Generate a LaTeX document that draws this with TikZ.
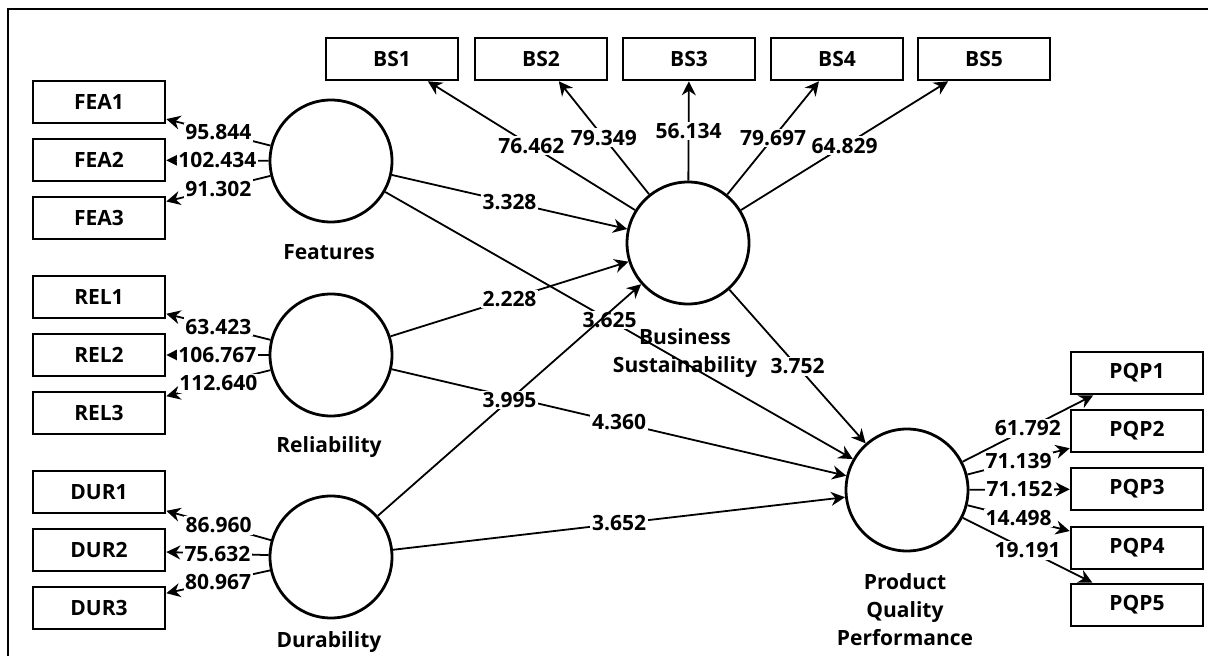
\documentclass[tikz,border=0pt]{standalone}
\usepackage{fontspec}
\setmainfont{Open Sans}
\usetikzlibrary{arrows.meta}
\newcommand\pfont{\fontsize{10.5}{14}\selectfont\bfseries}

\begin{document}
\begin{tikzpicture}[x=0.5pt,y=-0.5pt,
	ind/.style={draw,line width=1.3pt,minimum width=66pt,minimum height=21pt,inner sep=0pt,font=\pfont},
	lat/.style={draw,circle,line width=1.4pt,minimum size=61pt,inner sep=0pt},
	lvname/.style={font=\pfont,align=center},
	wt/.style={fill=white,inner sep=0.8pt,font=\pfont},
	pth/.style={line width=0.9pt,-{Stealth[length=7pt,width=7pt]}}]
			%%%%% START %%%%%
			
			\useasboundingbox (0,0) rectangle (1208,656);
			\draw[line width=0.8pt] (1210,9) -- (8,9) -- (8,660);
			
			% latent variables
			\node[lat] (fea) at (331,161) {};
			\node[lat] (rel) at (331,355) {};
			\node[lat] (dur) at (331,557) {};
			\node[lat] (bs) at (688,243) {};
			\node[lat] (pqp) at (907,490) {};
			
			\node[lvname] (feaname) at (329,252) {Features};
			\node[lvname] (relname) at (329,447) {Reliability};
			\node[lvname] (durname) at (329,642) {Durability};
			\node[lvname] (bsname) at (685,353) {Business\\Sustainability};
			\node[lvname] (pqpname) at (905,610) {Product\\Quality\\Performance};
			
			% indicators
			\node[ind] (fea1) at (99,102) {FEA1};
			\node[ind] (fea2) at (99,160) {FEA2};
			\node[ind] (fea3) at (99,218) {FEA3};
			\node[ind] (rel1) at (99,297) {REL1};
			\node[ind] (rel2) at (99,355) {REL2};
			\node[ind] (rel3) at (99,413) {REL3};
			\node[ind] (dur1) at (99,492) {DUR1};
			\node[ind] (dur2) at (99,550) {DUR2};
			\node[ind] (dur3) at (99,608) {DUR3};
			
			\node[ind] (bs1) at (392,59) {BS1};
			\node[ind] (bs2) at (541,59) {BS2};
			\node[ind] (bs3) at (689,59) {BS3};
			\node[ind] (bs4) at (837,59) {BS4};
			\node[ind] (bs5) at (984,59) {BS5};
			
			\node[ind] (pqp1) at (1137,373) {PQP1};
			\node[ind] (pqp2) at (1137,431) {PQP2};
			\node[ind] (pqp3) at (1137,489) {PQP3};
			\node[ind] (pqp4) at (1137,548) {PQP4};
			\node[ind] (pqp5) at (1137,605) {PQP5};
			
			% outer loadings
			\draw[pth] (fea) -- node[wt] {95.844} (fea1);
			\draw[pth] (fea) -- node[wt] {102.434} (fea2);
			\draw[pth] (fea) -- node[wt] {91.302} (fea3);
			\draw[pth] (rel) -- node[wt] {63.423} (rel1);
			\draw[pth] (rel) -- node[wt] {106.767} (rel2);
			\draw[pth] (rel) -- node[wt] {112.640} (rel3);
			\draw[pth] (dur) -- node[wt] {86.960} (dur1);
			\draw[pth] (dur) -- node[wt] {75.632} (dur2);
			\draw[pth] (dur) -- node[wt] {80.967} (dur3);
			
			\draw[pth] (bs) -- node[wt] {76.462} (bs1);
			\draw[pth] (bs) -- node[wt] {79.349} (bs2);
			\draw[pth] (bs) -- node[wt] {56.134} (bs3);
			\draw[pth] (bs) -- node[wt] {79.697} (bs4);
			\draw[pth] (bs) -- node[wt] {64.829} (bs5);
			
			\draw[pth] (pqp) -- node[wt] {61.792} (pqp1);
			\draw[pth] (pqp) -- node[wt] {71.139} (pqp2);
			\draw[pth] (pqp) -- node[wt] {71.152} (pqp3);
			\draw[pth] (pqp) -- node[wt] {14.498} (pqp4);
			\draw[pth] (pqp) -- node[wt] {19.191} (pqp5);
			
			% inner model
			\draw[pth] (fea) -- node[wt] {3.328} (bs);
			\draw[pth] (fea) -- node[wt,pos=0.48] {3.625} (pqp);
			\draw[pth] (rel) -- node[wt] {2.228} (bs);
			\draw[pth] (rel) -- node[wt] {4.360} (pqp);
			\draw[pth] (dur) -- node[wt] {3.995} (bs);
			\draw[pth] (dur) -- node[wt] {3.652} (pqp);
			\draw[pth] (bs) -- node[wt] {3.752} (pqp);
			
			%%%%% END %%%%%
\end{tikzpicture}
\end{document}
